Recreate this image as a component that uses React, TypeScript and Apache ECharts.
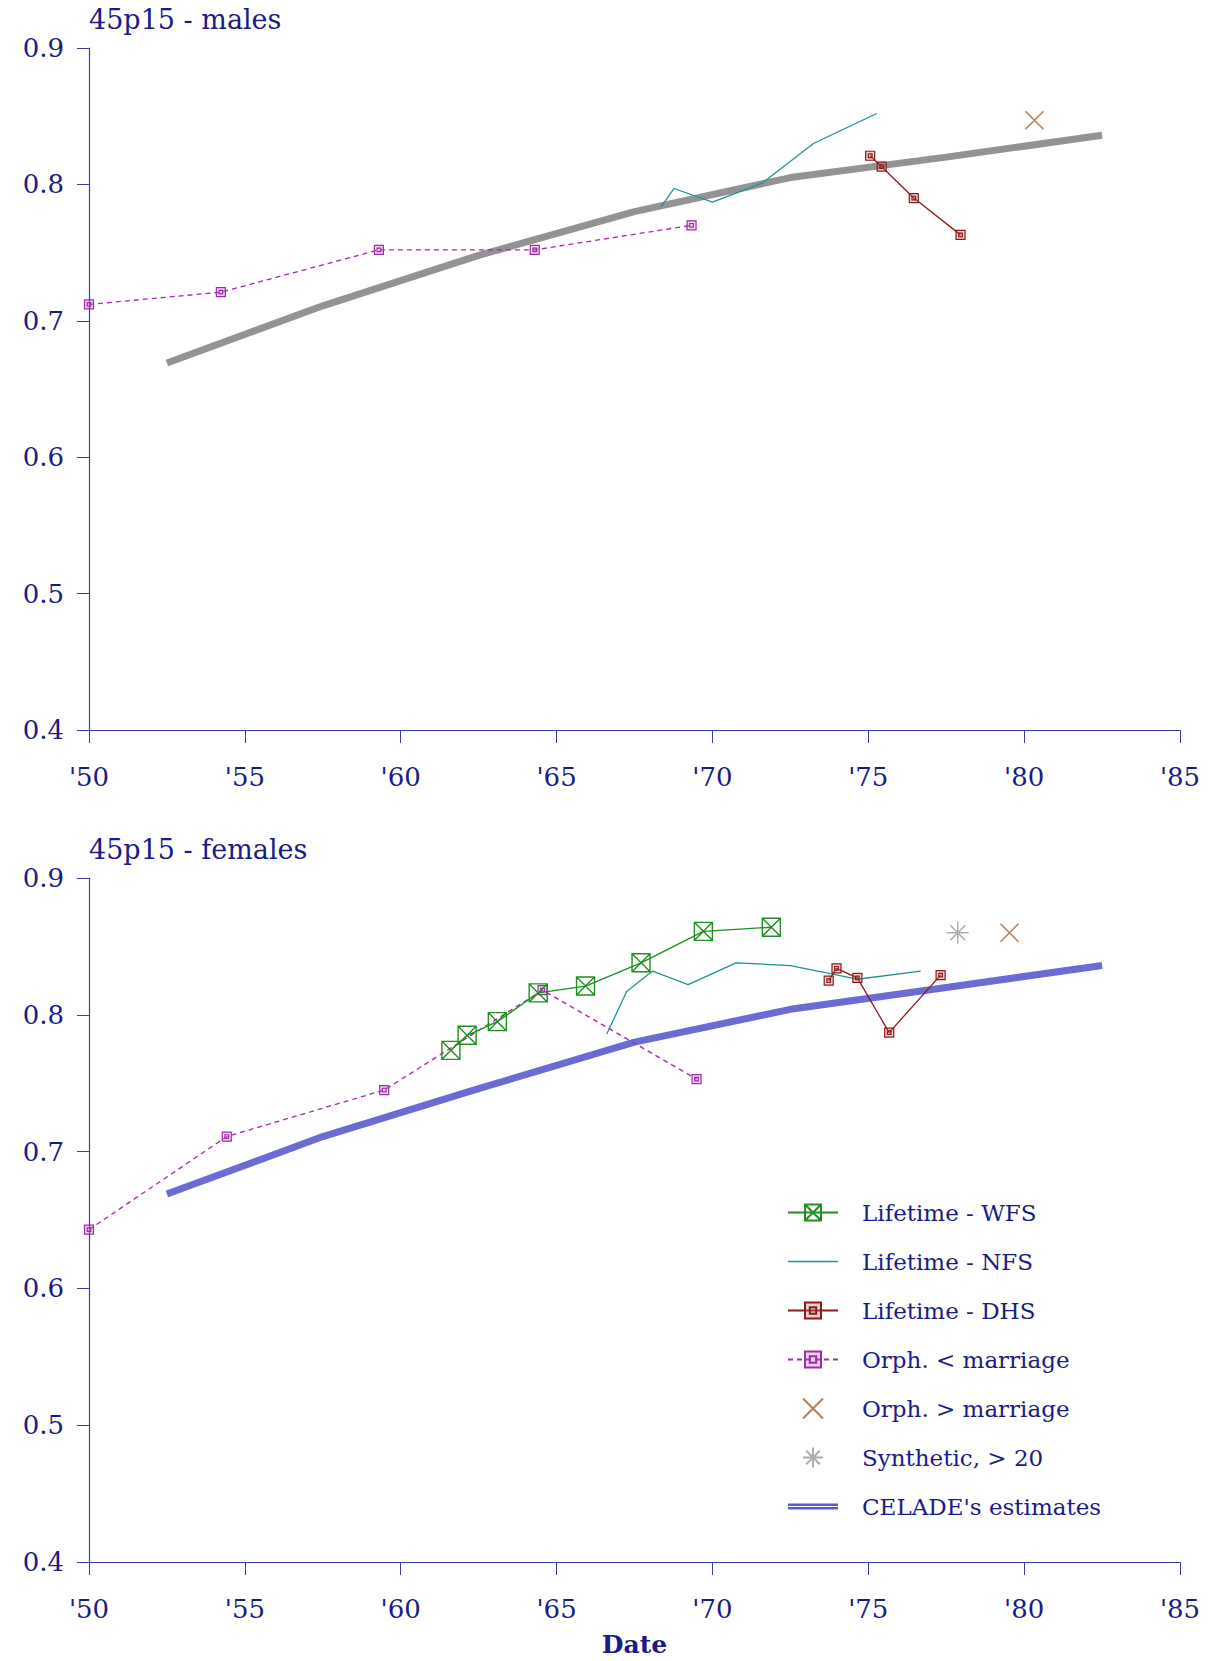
import React, { useEffect, useRef } from "react";
import * as echarts from "echarts";

// ---------- data ----------
const xTickValues = [1950, 1955, 1960, 1965, 1970, 1975, 1980, 1985];
const xTickLabels = ["'50", "'55", "'60", "'65", "'70", "'75", "'80", "'85"];
const yTickValues = [0.4, 0.5, 0.6, 0.7, 0.8, 0.9];
const yTickLabels = ["0.4", "0.5", "0.6", "0.7", "0.8", "0.9"];

const celadeYears = [1952.5, 1957.5, 1962.5, 1967.5, 1972.5, 1977.5, 1982.5];
const maleCelade = [0.669, 0.711, 0.748, 0.780, 0.805, 0.820, 0.836];
const femaleCelade = [0.669, 0.711, 0.746, 0.780, 0.804, 0.820, 0.836];

const maleOrphBeforeYears = [1950.0, 1954.23, 1959.3, 1964.3, 1969.33];
const maleOrphBeforeVals = [0.712, 0.721, 0.752, 0.752, 0.770];
const maleNfsYears = [1968.35, 1968.77, 1970.0, 1971.6, 1973.24, 1975.27];
const maleNfsVals = [0.7835, 0.797, 0.787, 0.801, 0.830, 0.852];
const maleDhsYears = [1975.06, 1975.43, 1976.46, 1977.96];
const maleDhsVals = [0.821, 0.813, 0.790, 0.763];
const maleOrphAfterYears = [1980.33];
const maleOrphAfterVals = [0.847];

const femaleWfsYears = [1961.61, 1962.13, 1963.1, 1964.41, 1965.93, 1967.71, 1969.71, 1971.89];
const femaleWfsVals = [0.774, 0.785, 0.795, 0.816, 0.821, 0.838, 0.861, 0.864];
const femaleNfsYears = [1966.61, 1967.25, 1968.08, 1969.22, 1970.76, 1972.5, 1974.65, 1976.68];
const femaleNfsVals = [0.786, 0.817, 0.832, 0.822, 0.838, 0.836, 0.826, 0.832];
const femaleDhsYears = [1973.73, 1973.98, 1974.65, 1975.67, 1977.32];
const femaleDhsVals = [0.825, 0.834, 0.827, 0.787, 0.829];
const femaleOrphBeforeYears = [1950.0, 1954.42, 1959.47, 1964.55, 1969.49];
const femaleOrphBeforeVals = [0.643, 0.711, 0.745, 0.818, 0.753];
const femaleOrphAfterYears = [1979.53];
const femaleOrphAfterVals = [0.860];
const femaleSyntheticYears = [1977.87];
const femaleSyntheticVals = [0.860];

const legendNames = [
  "Lifetime - WFS",
  "Lifetime - NFS",
  "Lifetime - DHS",
  "Orph. < marriage",
  "Orph. > marriage",
  "Synthetic, > 20",
  "CELADE's estimates",
];

// ---------- styling ----------
const FONT = "DejaVu Serif";
const TEXT = "#1a1a88";
const AXIS = "#3a3aa8";
const GREEN = "#1f8f1f";
const TEAL = "#1a9494";
const DHSRED = "#8c1a1a";
const MAGENTA = "#a02aa8";
const BROWN = "#a0602a";
const SYNTH = "#999999";
const BLUE = "#6b6bd6";
const GRAY = "#939393";

const boxX = "path://M0 0H10V10H0ZM0 0L10 10M10 0L0 10";
const dblSquare = "path://M0 0H10V10H0ZM3 3H7V7H3Z";
const cross = "path://M0 0L10 10M10 0L0 10";
const asterisk = "path://M5 0V10M0 5H10M1.6 1.6L8.4 8.4M8.4 1.6L1.6 8.4";
const thinLineIcon = "path://M0 0H50V1.3H0Z";
const thickLineIcon = "path://M0 0H50V2.6H0ZM0 3.4H50V6H0Z";

const zip = (xs: number[], ys: number[]) => xs.map((x, i) => [x, ys[i]]);

function makeAxes(idx: number, showName: boolean) {
  const xAxis: any = {
    type: "value",
    gridIndex: idx,
    min: 1950,
    max: 1985,
    interval: 5,
    axisLine: { show: true, lineStyle: { color: AXIS, width: 1.2 } },
    axisTick: { show: true, length: 13, lineStyle: { color: AXIS, width: 1 } },
    splitLine: { show: false },
    axisLabel: {
      margin: 34,
      fontFamily: FONT,
      fontSize: 26,
      color: TEXT,
      formatter: (v: number) => {
        const i = xTickValues.findIndex((t) => Math.abs(t - v) < 1e-6);
        return i >= 0 ? xTickLabels[i] : "";
      },
    },
  };
  if (showName) {
    xAxis.name = "Date";
    xAxis.nameLocation = "middle";
    xAxis.nameGap = 70;
    xAxis.nameTextStyle = { fontFamily: FONT, fontSize: 25, color: TEXT, fontWeight: "bold" };
  }
  const yAxis: any = {
    type: "value",
    gridIndex: idx,
    min: 0.4,
    max: 0.9,
    interval: 0.1,
    axisLine: { show: true, lineStyle: { color: AXIS, width: 1.2 } },
    axisTick: { show: true, length: 12, lineStyle: { color: AXIS, width: 1 } },
    splitLine: { show: false },
    axisLabel: {
      margin: 25,
      fontFamily: FONT,
      fontSize: 26,
      color: TEXT,
      formatter: (v: number) => {
        const i = yTickValues.findIndex((t) => Math.abs(t - v) < 1e-6);
        return i >= 0 ? yTickLabels[i] : "";
      },
    },
  };
  return { xAxis, yAxis };
}

function seriesFor(idx: number, d: any, celadeColor: string) {
  const base = { xAxisIndex: idx, yAxisIndex: idx, animation: false };
  const list: any[] = [];
  list.push({
    ...base,
    name: "CELADE's estimates",
    type: "line",
    data: zip(celadeYears, d.celade),
    symbol: "none",
    z: 1,
    lineStyle: { color: celadeColor, width: 7 },
    itemStyle: { color: celadeColor },
  });
  if (d.wfs) {
    list.push({
      ...base,
      name: "Lifetime - WFS",
      type: "line",
      data: zip(d.wfs[0], d.wfs[1]),
      symbol: boxX,
      symbolSize: 18,
      showSymbol: true,
      z: 4,
      lineStyle: { color: GREEN, width: 1.3 },
      itemStyle: { color: "rgba(0,0,0,0)", borderColor: GREEN, borderWidth: 1.4 },
    });
  }
  list.push({
    ...base,
    name: "Lifetime - NFS",
    type: "line",
    data: zip(d.nfs[0], d.nfs[1]),
    symbol: "none",
    z: 3,
    lineStyle: { color: TEAL, width: 1.3 },
    itemStyle: { color: TEAL },
  });
  list.push({
    ...base,
    name: "Lifetime - DHS",
    type: "line",
    data: zip(d.dhs[0], d.dhs[1]),
    symbol: dblSquare,
    symbolSize: 9,
    showSymbol: true,
    z: 3,
    lineStyle: { color: DHSRED, width: 1.3 },
    itemStyle: { color: "rgba(200,120,120,0.35)", borderColor: DHSRED, borderWidth: 1.2 },
  });
  list.push({
    ...base,
    name: "Orph. < marriage",
    type: "line",
    data: zip(d.orphB[0], d.orphB[1]),
    symbol: dblSquare,
    symbolSize: 9,
    showSymbol: true,
    z: 3,
    lineStyle: { color: MAGENTA, width: 1.3, type: [5, 4] },
    itemStyle: { color: "rgba(200,120,200,0.3)", borderColor: MAGENTA, borderWidth: 1.2 },
  });
  list.push({
    ...base,
    name: "Orph. > marriage",
    type: "scatter",
    data: zip(d.orphA[0], d.orphA[1]),
    symbol: cross,
    symbolSize: 18,
    z: 3,
    itemStyle: { color: "rgba(0,0,0,0)", borderColor: BROWN, borderWidth: 1.5 },
  });
  if (d.synth) {
    list.push({
      ...base,
      name: "Synthetic, > 20",
      type: "scatter",
      data: zip(d.synth[0], d.synth[1]),
      symbol: asterisk,
      symbolSize: 22,
      z: 3,
      itemStyle: { color: "rgba(0,0,0,0)", borderColor: SYNTH, borderWidth: 1.5 },
    });
  }
  return list;
}

export default function App() {
  const ref = useRef<HTMLDivElement>(null);
  useEffect(() => {
    document.body.style.margin = "0";
    if (!ref.current) return;
    const chart = echarts.init(ref.current, undefined, { renderer: "svg" });
    const top = makeAxes(0, false);
    const bottom = makeAxes(1, true);
    const femaleSeries = seriesFor(
      1,
      {
        celade: femaleCelade,
        wfs: [femaleWfsYears, femaleWfsVals],
        nfs: [femaleNfsYears, femaleNfsVals],
        dhs: [femaleDhsYears, femaleDhsVals],
        orphB: [femaleOrphBeforeYears, femaleOrphBeforeVals],
        orphA: [femaleOrphAfterYears, femaleOrphAfterVals],
        synth: [femaleSyntheticYears, femaleSyntheticVals],
      },
      BLUE
    );
    const maleSeries = seriesFor(
      0,
      {
        celade: maleCelade,
        nfs: [maleNfsYears, maleNfsVals],
        dhs: [maleDhsYears, maleDhsVals],
        orphB: [maleOrphBeforeYears, maleOrphBeforeVals],
        orphA: [maleOrphAfterYears, maleOrphAfterVals],
      },
      GRAY
    );
    const legendData = legendNames.map((name) => {
      if (name === "Lifetime - NFS") return { name, icon: thinLineIcon, itemStyle: { color: TEAL } };
      if (name === "CELADE's estimates") return { name, icon: thickLineIcon, itemStyle: { color: "#5a5ad0" } };
      return { name };
    });
    chart.setOption({
      animation: false,
      backgroundColor: "#ffffff",
      textStyle: { fontFamily: FONT },
      title: [
        {
          text: "45p15 - males",
          left: 89,
          top: 6,
          padding: 0,
          textStyle: { fontFamily: FONT, fontSize: 27, color: TEXT, fontWeight: "normal" },
        },
        {
          text: "45p15 - females",
          left: 89,
          top: 836,
          padding: 0,
          textStyle: { fontFamily: FONT, fontSize: 27, color: TEXT, fontWeight: "normal" },
        },
      ],
      grid: [
        { left: 89, right: 34, top: 48, height: 682 },
        { left: 89, right: 34, top: 878, height: 684 },
      ],
      xAxis: [top.xAxis, bottom.xAxis],
      yAxis: [top.yAxis, bottom.yAxis],
      legend: {
        data: legendData,
        orient: "vertical",
        left: 787,
        top: 1201,
        padding: 0,
        itemWidth: 50,
        itemHeight: 20,
        itemGap: 26,
        selectedMode: false,
        textStyle: {
          fontFamily: FONT,
          fontSize: 23,
          color: TEXT,
          lineHeight: 20,
          padding: [0, 0, 0, 19],
        },
      },
      series: [...femaleSeries, ...maleSeries],
    });
    return () => chart.dispose();
  }, []);
  return <div ref={ref} style={{ width: 1214, height: 1661 }} />;
}
